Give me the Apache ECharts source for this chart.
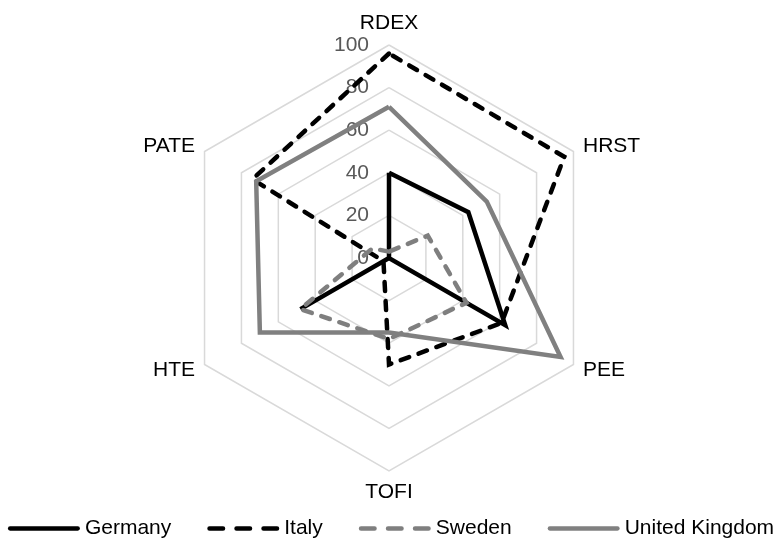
<!DOCTYPE html>
<html>
<head>
<meta charset="utf-8">
<script src="https://cdn.jsdelivr.net/npm/echarts@6/dist/echarts.min.js"></script>
<style>
    html, body { margin: 0; padding: 0; background: #fff; }
    #radar { width: 782px; height: 554px; }
</style>
</head>
<body>
<div id="radar"></div>
<script>
    // axes, clockwise from the top
    var indicators = ['RDEX', 'HRST', 'PEE', 'TOFI', 'HTE', 'PATE'];
    var tickLabels = ['0', '20', '40', '60', '80', '100'];

    var countries = ['Germany', 'Italy', 'Sweden', 'United Kingdom'];
    var germany = [40, 43, 63, 0, 48, 0];
    var italy = [96, 95, 61, 50, 3, 74];
    var sweden = [3, 21, 42, 38, 48, 9];
    var unitedKingdom = [71, 53, 93, 35, 70, 72];

    var FONT = 'Liberation Sans, Arial, sans-serif';
    var solidIcon = 'path://M3,0H97A3,3,0,0,1,97,6H3A3,3,0,0,1,3,0Z';
    var dashIcon = 'path://M4,0H22A3,3,0,0,1,22,6H4A3,3,0,0,1,4,0Z M40,0H58A3,3,0,0,1,58,6H40A3,3,0,0,1,40,0Z M76,0H94A3,3,0,0,1,94,6H76A3,3,0,0,1,76,0Z';

    var chart = echarts.init(document.getElementById('radar'));

    // echarts lays indicators out counter-clockwise, so reverse the tail
    function ccw(arr) {
        return [arr[0]].concat(arr.slice(1).reverse());
    }

    function line(name, values, color, dashed) {
        return {
            type: 'radar',
            name: name,
            symbol: 'none',
            silent: true,
            lineStyle: {
                color: color,
                width: 4.5,
                type: dashed ? [9, 10] : 'solid',
                cap: dashed ? 'round' : 'butt',
                join: 'miter'
            },
            itemStyle: { color: color },
            data: [{ name: name, value: ccw(values) }]
        };
    }

    var names = ccw(indicators);

    chart.setOption({
        animation: false,
        textStyle: { fontFamily: FONT },
        legend: {
            data: [
                { name: countries[0], icon: solidIcon },
                { name: countries[1], icon: dashIcon },
                { name: countries[2], icon: dashIcon },
                { name: countries[3], icon: solidIcon }
            ],
            top: 513,
            left: 'center',
            itemWidth: 72,
            itemHeight: 5,
            itemGap: 36,
            textStyle: { fontSize: 21, color: '#000', fontFamily: FONT }
        },
        radar: {
            center: [389, 258],
            radius: 213,
            startAngle: 90,
            shape: 'polygon',
            splitNumber: 5,
            nameGap: 11,
            axisName: { color: '#000', fontSize: 21, fontFamily: FONT },
            splitArea: { show: false },
            splitLine: { lineStyle: { color: '#d9d9d9', width: 1.5 } },
            axisLine: { show: false },
            axisTick: { show: false },
            axisLabel: { show: false },
            indicator: names.map(function (n, i) {
                var ind = { name: n, min: 0, max: 100 };
                if (i === 0) {
                    // only the top axis carries the scale
                    ind.axisLabel = {
                        show: true,
                        color: '#595959',
                        fontSize: 21,
                        fontFamily: FONT,
                        margin: 20,
                        formatter: function (v) { return tickLabels[Math.round(v / 20)]; }
                    };
                }
                return ind;
            })
        },
        series: [
            line(countries[0], germany, '#000000', false),
            line(countries[1], italy, '#000000', true),
            line(countries[2], sweden, '#7f7f7f', true),
            line(countries[3], unitedKingdom, '#808080', false)
        ]
    });
</script>
</body>
</html>
